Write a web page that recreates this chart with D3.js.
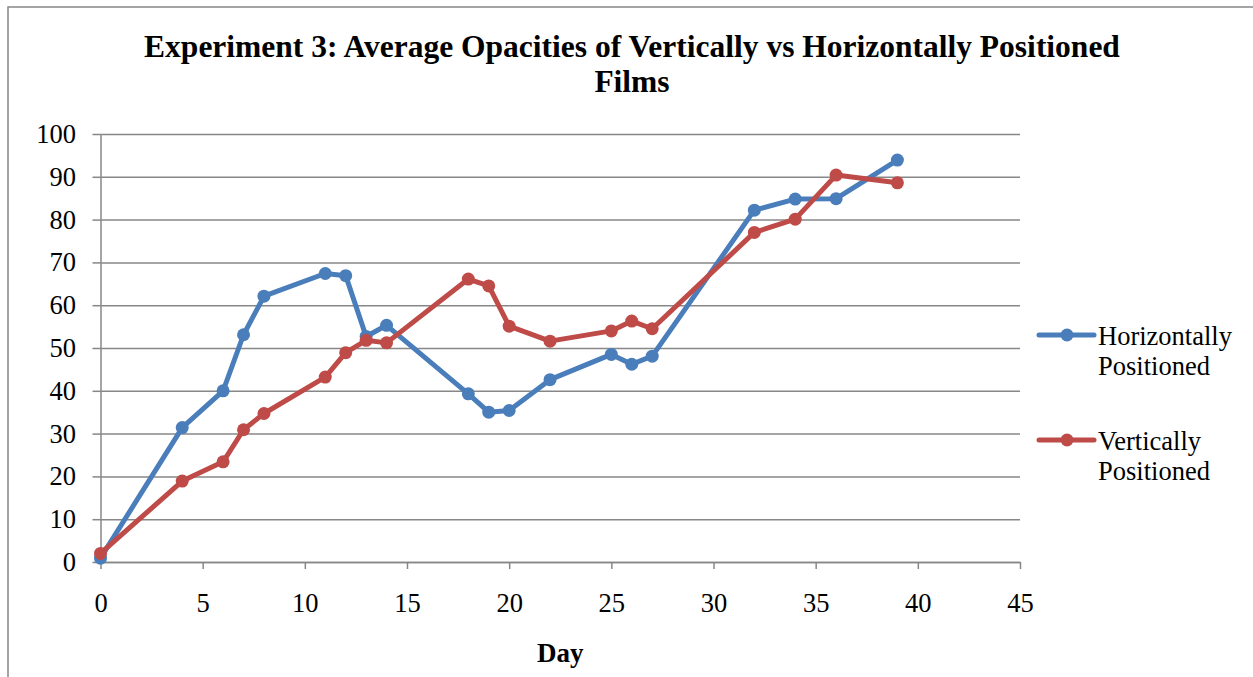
<!DOCTYPE html>
<html>
<head>
<meta charset="utf-8">
<script src="https://cdn.jsdelivr.net/npm/d3@7"></script>
<style>
  body { margin: 0; background: #fff; }
  svg { display: block; font-family: "Liberation Serif", "Times New Roman", serif; }
</style>
</head>
<body>
<svg id="chart" width="1253" height="677"></svg>
<script>
// values
var days = [0, 4, 6, 7, 8, 11, 12, 13, 14, 18, 19, 20, 22, 25, 26, 27, 32, 34, 36, 39];
var horizontal = [0.9, 31.4, 40.0, 53.1, 62.1, 67.4, 66.9, 52.7, 55.3, 39.3, 35.0, 35.4, 42.6, 48.5, 46.2, 48.1, 82.2, 84.8, 84.9, 93.9];
var vertical = [2.0, 18.9, 23.4, 30.9, 34.7, 43.2, 48.9, 51.8, 51.2, 66.1, 64.5, 55.1, 51.6, 54.0, 56.3, 54.5, 77.0, 80.1, 90.4, 88.6];
var xTicks = [0, 5, 10, 15, 20, 25, 30, 35, 40, 45];
var yTicks = [0, 10, 20, 30, 40, 50, 60, 70, 80, 90, 100];
var seriesNames = ["Horizontally Positioned", "Vertically Positioned"];
var seriesColors = ["#4a7ebb", "#be4b48"];

var svg = d3.select("#chart"),
  plotLeft = 100.5,
  plotRight = 1020,
  plotTop = 134,
  plotBottom = 562,
  grid = "#878787",
  tickFont = 26.5;

var x = d3.scaleLinear().domain([0, 45]).range([plotLeft, plotRight]);
var y = d3.scaleLinear().domain([0, 100]).range([plotBottom, plotTop]);

// outer chart border (only top and left visible in the picture)
svg.append("rect")
  .attr("x", 8).attr("y", 7)
  .attr("width", 1260).attr("height", 700)
  .attr("fill", "none")
  .attr("stroke", grid)
  .attr("stroke-width", 1.5);

// horizontal gridlines
svg.append("g")
  .attr("transform", "translate(" + plotLeft + ",0)")
  .call(d3.axisLeft(y).tickValues(yTicks).tickSize(-(plotRight - plotLeft)).tickFormat(""))
  .call(function(g) {
    g.select(".domain").remove();
    g.selectAll("line").attr("stroke", grid).attr("stroke-width", 1.5);
  });

// y axis
svg.append("g")
  .attr("transform", "translate(" + plotLeft + ",0)")
  .call(d3.axisLeft(y).tickValues(yTicks).tickSize(8).tickPadding(16.5).tickSizeOuter(0))
  .call(function(g) {
    g.select(".domain").attr("stroke", grid).attr("stroke-width", 1.5);
    g.selectAll("line").attr("stroke", grid).attr("stroke-width", 1.5);
    g.selectAll("text").attr("font-size", tickFont).attr("fill", "#000")
      .attr("font-family", "Liberation Serif, serif");
  });

// x axis
svg.append("g")
  .attr("transform", "translate(0," + plotBottom + ")")
  .call(d3.axisBottom(x).tickValues(xTicks).tickSize(7).tickPadding(24).tickSizeOuter(0))
  .call(function(g) {
    g.select(".domain").attr("stroke", grid).attr("stroke-width", 1.5);
    g.selectAll("line").attr("stroke", grid).attr("stroke-width", 1.5);
    g.selectAll("text").attr("font-size", tickFont).attr("fill", "#000")
      .attr("font-family", "Liberation Serif, serif");
  });

// series
var line = d3.line()
  .x(function(d) { return x(d[0]); })
  .y(function(d) { return y(d[1]); });

[horizontal, vertical].forEach(function(vals, i) {
  var pts = days.map(function(d, j) { return [d, vals[j]]; });
  svg.append("path")
    .datum(pts)
    .attr("fill", "none")
    .attr("stroke", seriesColors[i])
    .attr("stroke-width", 5)
    .attr("stroke-linejoin", "round")
    .attr("d", line);
  svg.append("g")
    .selectAll("circle")
    .data(pts)
    .enter()
    .append("circle")
    .attr("cx", function(d) { return x(d[0]); })
    .attr("cy", function(d) { return y(d[1]); })
    .attr("r", 6.5)
    .attr("fill", seriesColors[i]);
});

// title
var title = svg.append("text")
  .attr("text-anchor", "middle")
  .attr("font-size", 31.5)
  .attr("font-weight", "bold");
title.append("tspan").attr("x", 632).attr("y", 57)
  .text("Experiment 3: Average Opacities of Vertically vs Horizontally Positioned");
title.append("tspan").attr("x", 632).attr("y", 92).text("Films");

// x axis title
svg.append("text")
  .attr("x", (plotLeft + plotRight) / 2)
  .attr("y", 662)
  .attr("text-anchor", "middle")
  .attr("font-size", 27)
  .attr("font-weight", "bold")
  .text("Day");

// legend
var legend = svg.append("g");
seriesNames.forEach(function(name, i) {
  var ly = 335 + i * 105;
  legend.append("line")
    .attr("x1", 1039).attr("x2", 1094)
    .attr("y1", ly).attr("y2", ly)
    .attr("stroke", seriesColors[i])
    .attr("stroke-width", 5)
    .attr("stroke-linecap", "round");
  legend.append("circle")
    .attr("cx", 1067).attr("cy", ly).attr("r", 6.5)
    .attr("fill", seriesColors[i]);
  var words = name.split(" ");
  var t = legend.append("text").attr("font-size", 26.5);
  words.forEach(function(w, k) {
    t.append("tspan").attr("x", 1098).attr("y", ly + 10 + k * 30).text(w);
  });
});
</script>
</body>
</html>
